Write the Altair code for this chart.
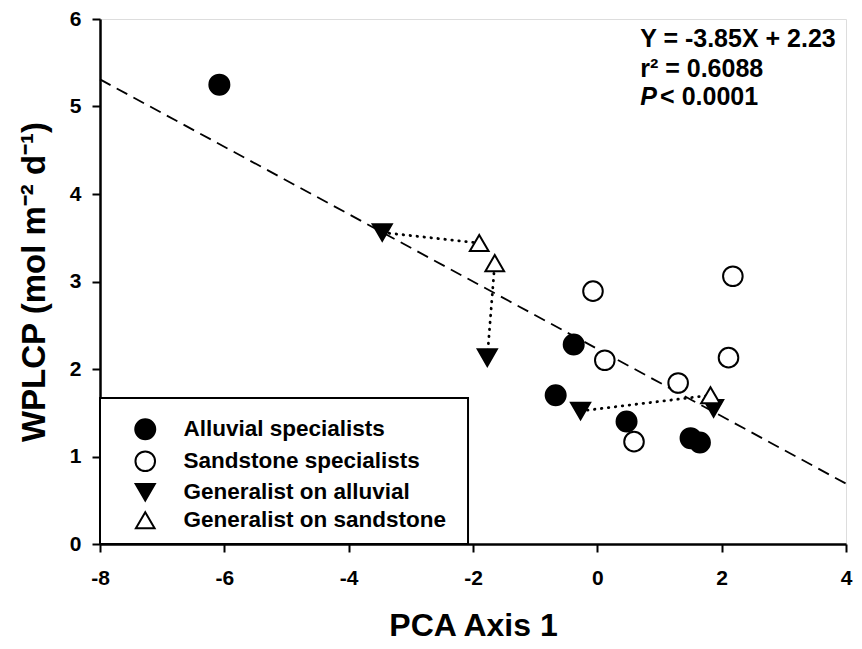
import altair as alt
import pandas as pd

FONT = "Liberation Sans"

# ---- data ----
groups = ["Alluvial specialists", "Sandstone specialists",
          "Generalist on alluvial", "Generalist on sandstone"]

alluvial_x = [-6.08, -0.38, -0.67, 0.47, 1.50, 1.65]
alluvial_y = [5.25, 2.28, 1.70, 1.40, 1.21, 1.16]
sand_x = [-0.07, 2.18, 0.12, 2.11, 1.30, 0.59]
sand_y = [2.89, 3.06, 2.10, 2.13, 1.84, 1.17]
gen_all_x = [-3.46, -1.77, -0.27, 1.87]
gen_all_y = [3.56, 2.13, 1.52, 1.55]
gen_sand_x = [-1.90, -1.65, 1.82]
gen_sand_y = [3.44, 3.21, 1.70]

# dotted links: (index in generalist-alluvial, index in generalist-sandstone)
pairs = [(0, 0), (1, 1), (2, 2), (3, 2)]

reg_x = [-8, 4]
reg_y = [5.31, 0.69]

stats_lines = ["Y = -3.85X + 2.23", "r\u00b2 = 0.6088"]
stats_y = [5.68, 5.34]
p_label = "P"
p_rest = "< 0.0001"
p_y = 5.02
stats_x = 0.69
p_rest_x = 1.01

legend_box_x = [-8, -2.08]
legend_box_y = [0, 1.67]

x_ticks = [-8, -6, -4, -2, 0, 2, 4]
y_ticks = [0, 1, 2, 3, 4, 5, 6]

# ---- tables ----
rows = []
for g, xs, ys in [(groups[0], alluvial_x, alluvial_y), (groups[1], sand_x, sand_y),
                  (groups[2], gen_all_x, gen_all_y), (groups[3], gen_sand_x, gen_sand_y)]:
    for a, b in zip(xs, ys):
        rows.append({"x": a, "y": b, "group": g})
pts = pd.DataFrame(rows)

links = pd.DataFrame([{"x": gen_all_x[i], "y": gen_all_y[i],
                       "x2": gen_sand_x[j], "y2": gen_sand_y[j]} for i, j in pairs])
reg = pd.DataFrame({"x": reg_x, "y": reg_y})
box = pd.DataFrame([{"x": legend_box_x[0], "x2": legend_box_x[1],
                     "y": legend_box_y[0], "y2": legend_box_y[1]}])
stats = pd.DataFrame({"x": [stats_x] * len(stats_lines), "y": stats_y, "t": stats_lines})
pdf = pd.DataFrame([{"x": stats_x, "y": p_y, "t": p_label}])
prest = pd.DataFrame([{"x": p_rest_x, "y": p_y, "t": p_rest}])

xscale = alt.Scale(domain=[-8, 4], nice=False, zero=False)
yscale = alt.Scale(domain=[0, 6], nice=False, zero=False)

xaxis = alt.Axis(title="PCA Axis 1", values=x_ticks, grid=False, tickSize=8, tickWidth=2,
                 domainWidth=2.5, domainColor="black", tickColor="black",
                 labelExpr="'' + datum.value",
                 labelFont=FONT, labelFontSize=21, labelFontWeight="bold", labelColor="black",
                 labelPadding=15, titleFont=FONT, titleFontSize=32, titleFontWeight="bold",
                 titleColor="black", titleY=91, titleBaseline="alphabetic", labelFlush=False)
yaxis = alt.Axis(title="WPLCP (mol m\u207b\u00b2 d\u207b\u00b9)", values=y_ticks, grid=False,
                 tickSize=8, tickWidth=2, domainWidth=2.5, domainColor="black",
                 tickColor="black", labelExpr="'' + datum.value",
                 labelFont=FONT, labelFontSize=21, labelFontWeight="bold",
                 labelColor="black", labelPadding=11, titleFont=FONT, titleFontSize=33,
                 titleFontWeight="bold", titleColor="black", titleX=-56,
                 titleBaseline="alphabetic", labelFlush=False)

X = alt.X("x:Q", scale=xscale, axis=xaxis)
Y = alt.Y("y:Q", scale=yscale, axis=yaxis)

reg_line = alt.Chart(reg).mark_line(color="black", strokeWidth=1.8, strokeDash=[12, 7]).encode(
    x=X, y=Y)

link_rules = alt.Chart(links).mark_rule(color="black", strokeWidth=2.8, strokeDash=[0.5, 6.5],
                                        strokeCap="round").encode(
    x=X, y=Y, x2="x2:Q", y2="y2:Q")

box_rect = alt.Chart(box).mark_rect(fill="white", stroke="black", strokeWidth=2).encode(
    x=X, y=Y, x2="x2:Q", y2="y2:Q")

legend = alt.Legend(title=None, orient="none", legendX=34, legendY=399, padding=0,
                    labelFont=FONT, labelFontSize=22.5, labelFontWeight="bold",
                    labelColor="black", rowPadding=3, labelOffset=27, labelLimit=400,
                    symbolStrokeWidth=2, symbolStrokeColor="black")

points = alt.Chart(pts).mark_point(strokeWidth=2, opacity=1, strokeJoin="miter").encode(
    x=X, y=Y,
    shape=alt.Shape("group:N", scale=alt.Scale(domain=groups,
                    range=["circle", "circle", "triangle-down", "triangle-up"]), legend=legend),
    fill=alt.Fill("group:N", scale=alt.Scale(domain=groups,
                  range=["black", "white", "black", "white"]), legend=legend),
    stroke=alt.Stroke("group:N", scale=alt.Scale(domain=groups,
                      range=["black", "black", "black", "black"]), legend=legend),
    size=alt.Size("group:N", scale=alt.Scale(domain=groups, range=[400, 350, 310, 290]),
                  legend=legend),
)

stats_text = alt.Chart(stats).mark_text(font=FONT, fontSize=25, fontWeight="bold",
                                        align="left", baseline="alphabetic",
                                        color="black").encode(x=X, y=Y, text="t:N")
p_text = alt.Chart(pdf).mark_text(font=FONT, fontSize=25, fontWeight="bold", fontStyle="italic",
                                  align="left", baseline="alphabetic",
                                  color="black").encode(x=X, y=Y, text="t:N")
prest_text = alt.Chart(prest).mark_text(font=FONT, fontSize=25, fontWeight="bold",
                                        align="left", baseline="alphabetic",
                                        color="black").encode(x=X, y=Y, text="t:N")

chart = alt.layer(box_rect, reg_line, link_rules, points, stats_text, p_text, prest_text).properties(
    width=746, height=525,
    autosize=alt.AutoSizeParams(type="none"),
    padding={"left": 92, "top": 11, "right": 8, "bottom": 97},
).configure_view(stroke="black", strokeWidth=2.5).configure(background="white")

chart.save("out.html", embed_options={"renderer": "svg", "actions": False})
